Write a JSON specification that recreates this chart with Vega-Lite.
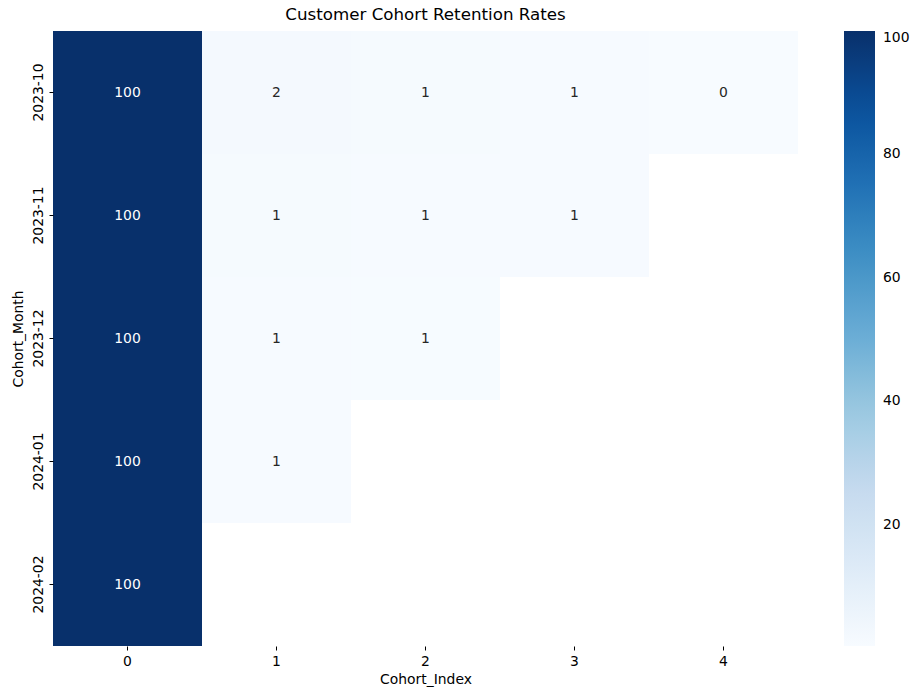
{
  "$schema": "https://vega.github.io/schema/vega-lite/v6.json",
  "autosize": "none",
  "width": 745,
  "height": 615,
  "padding": {"left": 53, "top": 31, "right": 123, "bottom": 53},
  "background": "white",
  "title": {"text": "Customer Cohort Retention Rates", "font": "DejaVu Sans", "fontSize": 16.7, "fontWeight": "normal", "color": "black", "offset": 7},
  "config": {
    "view": {"stroke": null},
    "font": "DejaVu Sans",
    "axis": {"labelFont": "DejaVu Sans", "titleFont": "DejaVu Sans", "labelFontSize": 13.9, "titleFontSize": 13.9, "titleFontWeight": "normal", "labelColor": "black", "titleColor": "black", "tickColor": "black", "tickSize": 4, "domain": false, "grid": false}
  },
  "data": {"values": [
    {"Cohort_Month": "2023-10", "Cohort_Index": 0, "Retention": 100},
    {"Cohort_Month": "2023-10", "Cohort_Index": 1, "Retention": 1.8},
    {"Cohort_Month": "2023-10", "Cohort_Index": 2, "Retention": 1.2},
    {"Cohort_Month": "2023-10", "Cohort_Index": 3, "Retention": 0.9},
    {"Cohort_Month": "2023-10", "Cohort_Index": 4, "Retention": 0.4},
    {"Cohort_Month": "2023-11", "Cohort_Index": 0, "Retention": 100},
    {"Cohort_Month": "2023-11", "Cohort_Index": 1, "Retention": 1.3},
    {"Cohort_Month": "2023-11", "Cohort_Index": 2, "Retention": 0.9},
    {"Cohort_Month": "2023-11", "Cohort_Index": 3, "Retention": 0.8},
    {"Cohort_Month": "2023-12", "Cohort_Index": 0, "Retention": 100},
    {"Cohort_Month": "2023-12", "Cohort_Index": 1, "Retention": 1.1},
    {"Cohort_Month": "2023-12", "Cohort_Index": 2, "Retention": 0.7},
    {"Cohort_Month": "2024-01", "Cohort_Index": 0, "Retention": 100},
    {"Cohort_Month": "2024-01", "Cohort_Index": 1, "Retention": 1.0},
    {"Cohort_Month": "2024-02", "Cohort_Index": 0, "Retention": 100}
  ]},
  "encoding": {
    "x": {"field": "Cohort_Index", "type": "ordinal", "scale": {"domain": [0, 1, 2, 3, 4], "paddingInner": 0, "paddingOuter": 0},
          "axis": {"title": "Cohort_Index", "labelAngle": 0, "labelPadding": 4, "titlePadding": 5}},
    "y": {"field": "Cohort_Month", "type": "ordinal", "scale": {"domain": ["2023-10", "2023-11", "2023-12", "2024-01", "2024-02"], "paddingInner": 0, "paddingOuter": 0},
          "axis": {"title": "Cohort_Month", "labelAngle": 270, "labelAlign": "center", "labelBaseline": "bottom", "labelPadding": 4, "titlePadding": 6}}
  },
  "layer": [
    {
      "mark": {"type": "rect"},
      "encoding": {
        "color": {"field": "Retention", "type": "quantitative",
                  "scale": {"domain": [0.4, 100], "range": ["#f7fbff", "#deebf7", "#c6dbef", "#9ecae1", "#6baed6", "#4292c6", "#2171b5", "#08519c", "#08306b"]},
                  "legend": {"title": null, "orient": "none", "legendX": 791, "legendY": 0, "direction": "vertical", "gradientLength": 615, "gradientThickness": 31, "gradientStrokeWidth": 0, "values": [20, 40, 60, 80, 100], "labelFont": "DejaVu Sans", "labelFontSize": 13.9, "labelColor": "black", "labelOffset": 8}}
      }
    },
    {
      "mark": {"type": "text", "fontSize": 13.9, "font": "DejaVu Sans"},
      "encoding": {
        "text": {"field": "Retention", "type": "quantitative", "format": ".0f"},
        "color": {"condition": {"test": "datum.Retention > 50", "value": "white"}, "value": "#262626"}
      }
    }
  ]
}
